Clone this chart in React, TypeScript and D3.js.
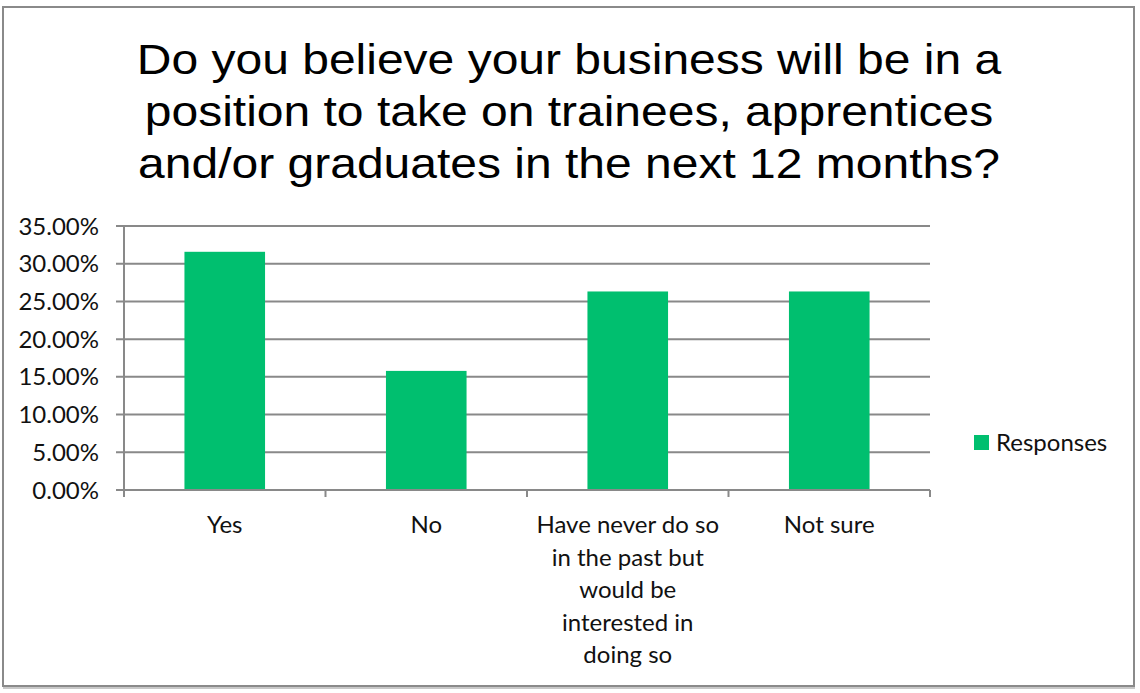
import * as d3 from 'd3';
import React from 'react';

const titleLines = [
  'Do you believe your business will be in a',
  'position to take on trainees, apprentices',
  'and/or graduates in the next 12 months?',
];
const categories = ['Yes', 'No', 'Have never do so', 'Not sure'];
const categoryLines = [
  ['Yes'],
  ['No'],
  ['Have never do so', 'in the past but', 'would be', 'interested in', 'doing so'],
  ['Not sure'],
];
const responses = [0.3158, 0.1579, 0.2632, 0.2632];
const yTicks = [0, 0.05, 0.1, 0.15, 0.2, 0.25, 0.3, 0.35];
const seriesName = 'Responses';

const W = 1140;
const H = 693;
const green = '#00bf6f';
const grid = '#898989';
const labelFont = 'Lato, "Open Sans", sans-serif';

function App() {
  const x = d3
    .scaleBand<string>()
    .domain(categories)
    .range([124, 930])
    .paddingInner(0.6)
    .paddingOuter(0.3);

  const y = d3.scaleLinear().domain([0, 0.35]).range([490, 226]);
  const fmt = d3.format('.2%');

  const step = x.step();
  const edges = d3.range(categories.length + 1).map((i) => 124 + i * step);
  const mid = (c: string) => (x(c) || 0) + x.bandwidth() / 2;

  return (
    <svg
      width={W}
      height={H}
      style={{ position: 'absolute', left: 0, top: 0, background: '#fff' }}
    >
      <rect x={0} y={0} width={W} height={H} fill="#fff" />
      {/* frame */}
      <rect x={3} y={7} width={1131} height={679} fill="none" stroke="#8a8a8a" strokeWidth={2} />
      <line x1={3} x2={1135} y1={688} y2={688} stroke="#c8c8c8" strokeWidth={2} />

      {/* title, the source is stretched sideways */}
      <g
        transform="translate(569,0) scale(1.143,1)"
        fontFamily='"Liberation Sans", Arial, sans-serif'
        fontSize={42}
        fill="#000"
        textAnchor="middle"
      >
        {titleLines.map((t, i) => (
          <text key={i} x={0} y={74 + i * 52}>
            {t}
          </text>
        ))}
      </g>

      {/* gridlines + y labels */}
      <g>
        {yTicks.map((t) => (
          <g key={t}>
            <line x1={116} x2={930} y1={y(t)} y2={y(t)} stroke={grid} strokeWidth={2} />
            <text
              x={99}
              y={y(t) + 8.5}
              textAnchor="end"
              fontFamily={labelFont}
              fontSize={24}
              fill="#111"
            >
              {fmt(t)}
            </text>
          </g>
        ))}
      </g>

      {/* bars */}
      <g>
        {categories.map((c, i) => (
          <rect
            key={c}
            x={x(c)}
            y={y(responses[i])}
            width={x.bandwidth()}
            height={y(0) - y(responses[i])}
            fill={green}
          />
        ))}
      </g>

      {/* axes */}
      <line x1={124} x2={124} y1={y(0.35)} y2={y(0) + 7} stroke={grid} strokeWidth={2} />
      <line x1={116} x2={930} y1={y(0)} y2={y(0)} stroke={grid} strokeWidth={2} />
      {edges.map((e, i) => (
        <line key={i} x1={e} x2={e} y1={y(0)} y2={y(0) + 7} stroke={grid} strokeWidth={2} />
      ))}

      {/* category labels */}
      <g fontFamily={labelFont} fontSize={24} fill="#111" textAnchor="middle">
        {categories.map((c, i) => (
          <text key={c} x={mid(c)} y={533}>
            {categoryLines[i].map((l, j) => (
              <tspan key={j} x={mid(c)} dy={j === 0 ? 0 : 32.5}>
                {l}
              </tspan>
            ))}
          </text>
        ))}
      </g>

      {/* legend */}
      <rect x={974} y={435} width={15} height={15} fill={green} />
      <text x={996} y={451} fontFamily={labelFont} fontSize={24} fill="#111">
        {seriesName}
      </text>
    </svg>
  );
}

export default App;
